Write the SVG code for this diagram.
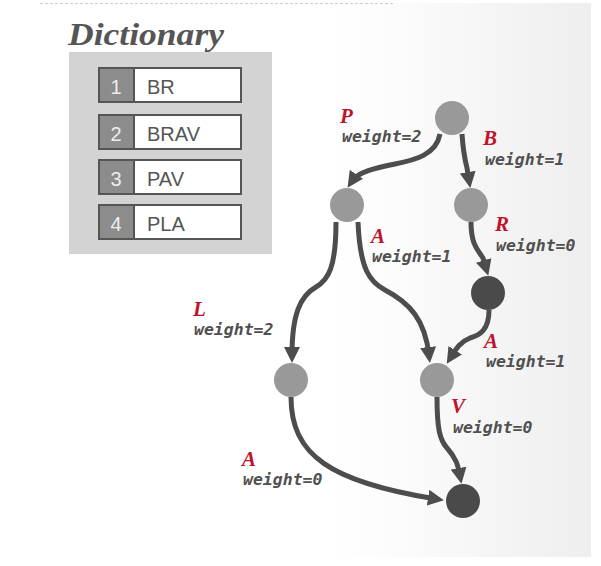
<svg xmlns="http://www.w3.org/2000/svg" width="601" height="566" viewBox="0 0 601 566">
<style>
.num{fill:#8c8c8c;stroke:#555;stroke-width:2}
.cell{fill:#fff;stroke:#555;stroke-width:2}
.numt{font-family:"Liberation Sans","DejaVu Sans",sans-serif;font-size:20px;fill:#eeeeee;text-anchor:middle}
.cellt{font-family:"Liberation Sans","DejaVu Sans",sans-serif;font-size:20px;fill:#555}
.lt{font-family:"Liberation Serif","DejaVu Serif",serif;font-weight:bold;font-style:italic;font-size:21px;fill:#c0122c}
.wt{font-family:"DejaVu Sans Mono","Liberation Mono",monospace;font-weight:bold;font-style:italic;font-size:16.5px;fill:#505050}
.edge{fill:none;stroke:#4d4d4d;stroke-width:5;marker-end:url(#ah)}
.g{fill:#999}
.d{fill:#4a4a4a}
</style>
<defs>
<linearGradient id="bg" x1="0" y1="0" x2="1" y2="0">
<stop offset="0" stop-color="#ffffff"/>
<stop offset="0.3" stop-color="#fbfbfb"/>
<stop offset="1" stop-color="#eeeeee"/>
</linearGradient>
<marker id="ah" viewBox="0 0 16 16" refX="8" refY="8" markerWidth="16" markerHeight="16" markerUnits="userSpaceOnUse" orient="auto">
<path d="M0,0 L16,8 L0,16 z" fill="#4d4d4d"/>
</marker>
</defs>
<rect x="0" y="0" width="601" height="566" fill="#fff"/>
<rect x="330" y="3" width="261" height="554" fill="url(#bg)"/>
<line x1="40" y1="3.5" x2="395" y2="3.5" stroke="#cfcfcf" stroke-width="1" stroke-dasharray="3 2"/>

<g id="dictionary">
<text x="68" y="45" font-family="Liberation Serif, DejaVu Serif, serif" font-weight="bold" font-style="italic" font-size="32" fill="#555" textLength="156" lengthAdjust="spacingAndGlyphs">Dictionary</text>
<rect x="69" y="52" width="203" height="202" fill="#d3d3d3"/>
<g id="row1">
<rect class="num" x="99" y="68" width="35" height="34"/>
<rect class="cell" x="134" y="68" width="107" height="34"/>
<text class="numt" x="116" y="94">1</text>
<text class="cellt" x="147" y="94">BR</text>
</g>
<g id="row2">
<rect class="num" x="99" y="115" width="35" height="34"/>
<rect class="cell" x="134" y="115" width="107" height="34"/>
<text class="numt" x="116" y="141">2</text>
<text class="cellt" x="147" y="141">BRAV</text>
</g>
<g id="row3">
<rect class="num" x="99" y="160" width="35" height="34"/>
<rect class="cell" x="134" y="160" width="107" height="34"/>
<text class="numt" x="116" y="186">3</text>
<text class="cellt" x="147" y="186">PAV</text>
</g>
<g id="row4">
<rect class="num" x="99" y="205" width="35" height="34"/>
<rect class="cell" x="134" y="205" width="107" height="34"/>
<text class="numt" x="116" y="231">4</text>
<text class="cellt" x="147" y="231">PLA</text>
</g>
</g>

<g id="connectors">
<path class="edge" d="M440,134 C436,155 415,160 395,164 C375,168 358,172 352,181"/>
<path class="edge" d="M462,134 C463,150 465,160 467,168 L469,180"/>
<path class="edge" d="M471,222 C471,245 478,250 483,258 L486,268"/>
<path class="edge" d="M336,222 C336,268 328,280 316,287 C300,296 292,315 292,355"/>
<path class="edge" d="M358,222 C360,270 370,282 385,290 C410,303 425,320 429,355"/>
<path class="edge" d="M489,310 C489,330 480,335 470,338 C460,342 456,349 451,357"/>
<path class="edge" d="M291,397 C291,455 330,482 436,499"/>
<path class="edge" d="M437,397 C437,430 440,440 447,448 C456,458 458,465 460,476"/>
</g>

<g id="edge-labels">
<text class="lt" x="340" y="123">P</text>
<text class="wt" x="342" y="142">weight=2</text>
<text class="lt" x="483" y="145">B</text>
<text class="wt" x="485" y="165">weight=1</text>
<text class="lt" x="371" y="243">A</text>
<text class="wt" x="372" y="262">weight=1</text>
<text class="lt" x="495" y="231">R</text>
<text class="wt" x="496" y="251">weight=0</text>
<text class="lt" x="193" y="316">L</text>
<text class="wt" x="194" y="335">weight=2</text>
<text class="lt" x="484" y="348">A</text>
<text class="wt" x="486" y="367">weight=1</text>
<text class="lt" x="451" y="413">V</text>
<text class="wt" x="453" y="433">weight=0</text>
<text class="lt" x="242" y="466">A</text>
<text class="wt" x="243" y="485">weight=0</text>
</g>

<g id="n-root"><circle class="g" cx="452" cy="118" r="17"/></g>
<g id="n-p"><circle class="g" cx="347" cy="205" r="17"/></g>
<g id="n-b"><circle class="g" cx="471" cy="205" r="17"/></g>
<g id="n-r"><circle class="d" cx="488" cy="293" r="17"/></g>
<g id="n-l"><circle class="g" cx="291" cy="380" r="17"/></g>
<g id="n-v"><circle class="g" cx="437" cy="380" r="17"/></g>
<g id="n-end"><circle class="d" cx="463" cy="501" r="17"/></g>
</svg>
